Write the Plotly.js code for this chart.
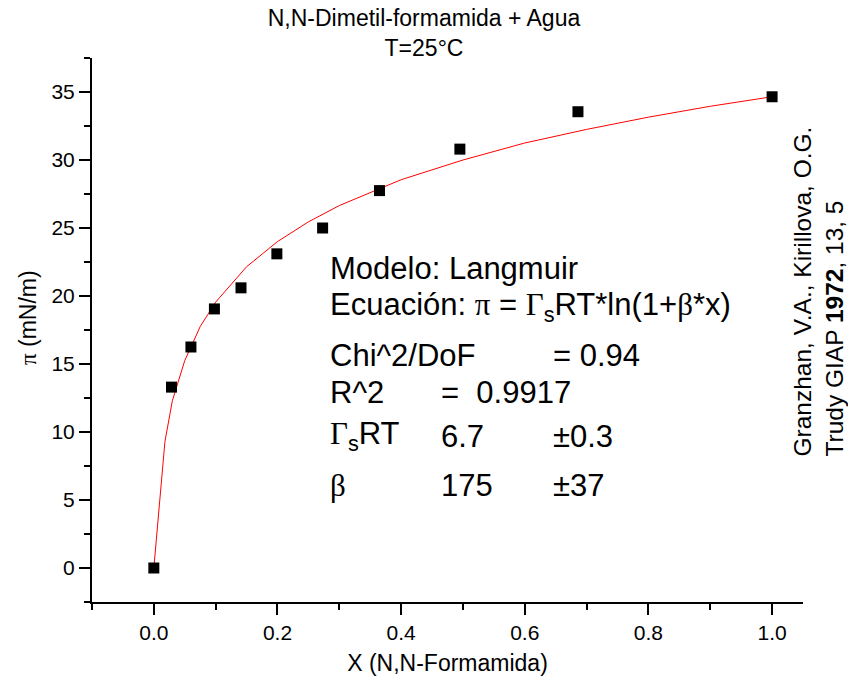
<!DOCTYPE html>
<html>
<head>
<meta charset="utf-8">
<script src="https://cdn.plot.ly/plotly-3.0.1.min.js"></script>
<style>html,body{margin:0;padding:0;background:#fff;}#chart{width:848px;height:685px;}</style>
</head>
<body>
<div id="chart"></div>
<script>
var dataX = [0, 0.0286, 0.060, 0.098, 0.141, 0.199, 0.273, 0.365, 0.495, 0.686, 1.0];
var dataY = [0, 13.3, 16.25, 19.05, 20.6, 23.1, 25.0, 27.75, 30.8, 33.55, 34.65];

// Fitted Langmuir curve
var fitX = [0, 0.018, 0.03, 0.05, 0.075, 0.1, 0.15, 0.2, 0.25, 0.3, 0.4, 0.5, 0.6, 0.7, 0.8, 0.9, 1.0];
var fitY = [0, 9.3, 12.3, 15.25, 17.75, 19.55, 22.15, 24.0, 25.45, 26.65, 28.55, 30.0, 31.25, 32.25, 33.15, 33.95, 34.65];

var G = function(s){ return '<span style="font-family:\'Liberation Serif\',serif">' + s + '</span>'; };

// Fit-result text block
var col1Text = ['Modelo: Langmuir',
                'Ecuación: ' + G('π') + ' = ' + G('Γ') + '<sub>s</sub>RT*ln(1+' + G('β') + '*x)',
                'Chi^2/DoF',
                'R^2',
                G('Γ') + '<sub>s</sub>RT',
                G('β')];
var col2Text = ['', '', '', '=  0.9917', '6.7', '175'];
var col3Text = ['', '', '= 0.94', '', '±0.3', '±37'];
var rowY = [22.0, 19.2, 15.65, 12.9, 9.7, 6.05];
var colX = [0.281, 0.461, 0.642];

var refText = 'Granzhan, V.A., Kirillova, O.G.<br>Trudy GIAP <b>1972</b>, 13, 5';
var yTitle = G('π') + ' (mN/m)';

var annFont = {family: 'Liberation Sans, Arial, sans-serif', size: 31, color: '#000'};
var annotations = [];
[col1Text, col2Text, col3Text].forEach(function(col, c){
  col.forEach(function(t, r){
    if (!t) return;
    annotations.push({xref:'x', yref:'y', x: colX[c], y: rowY[r], text: t,
      xanchor:'left', yanchor:'middle', showarrow:false, font: annFont});
  });
});
annotations.push({xref:'paper', yref:'paper', x: 1.022, y: 0.57, text: refText,
  textangle: -90, align:'left', xanchor:'center', yanchor:'middle', showarrow:false,
  font:{family:'Liberation Sans, Arial, sans-serif', size: 24.5, color:'#000'}});
// y-axis title
annotations.push({xref:'paper', yref:'paper', x: -0.09, y: 0.522, text: yTitle,
  textangle: -90, xanchor:'center', yanchor:'middle', showarrow:false,
  font:{family:'Liberation Sans, Arial, sans-serif', size: 23, color:'#000'}});

var traces = [
  {x: fitX, y: fitY, mode:'lines', line:{color:'#ff0000', width:1}, hoverinfo:'skip', showlegend:false},
  {x: dataX, y: dataY, mode:'markers', marker:{symbol:'square', size:11, color:'#000'}, showlegend:false}
];

var axisCommon = {
  showgrid:false, zeroline:false, showline:true, linecolor:'#000', linewidth:2,
  ticks:'outside', ticklen:11, tickwidth:2, tickcolor:'#000',
  tickfont:{family:'Liberation Sans, Arial, sans-serif', size:21, color:'#000'}
};

var layout = {
  width:848, height:685,
  paper_bgcolor:'#fff', plot_bgcolor:'#fff',
  margin:{l:92, r:45, t:58, b:83},
  font:{family:'Liberation Sans, Arial, sans-serif', color:'#000'},
  title:{text:'N,N-Dimetil-formamida + Agua<br>T=25°C', x:0.5, xref:'container', xanchor:'center',
    y:0.962, yref:'container', yanchor:'top', font:{size:23, color:'#000'}},
  xaxis: Object.assign({}, axisCommon, {
    range:[-0.1, 1.05], tick0:0, dtick:0.2, tickformat:'.1f',
    minor:{dtick:0.1, tick0:0, ticks:'outside', ticklen:6, tickwidth:2, tickcolor:'#000'},
    title:{text:'X (N,N-Formamida)', standoff:12, font:{size:23, color:'#000'}}
  }),
  yaxis: Object.assign({}, axisCommon, {
    range:[-2.5, 37.5], tick0:0, dtick:5,
    minor:{dtick:2.5, tick0:0, ticks:'outside', ticklen:6, tickwidth:2, tickcolor:'#000'}
  }),
  annotations: annotations
};

Plotly.newPlot('chart', traces, layout, {displayModeBar:false, staticPlot:true});
</script>
</body>
</html>
